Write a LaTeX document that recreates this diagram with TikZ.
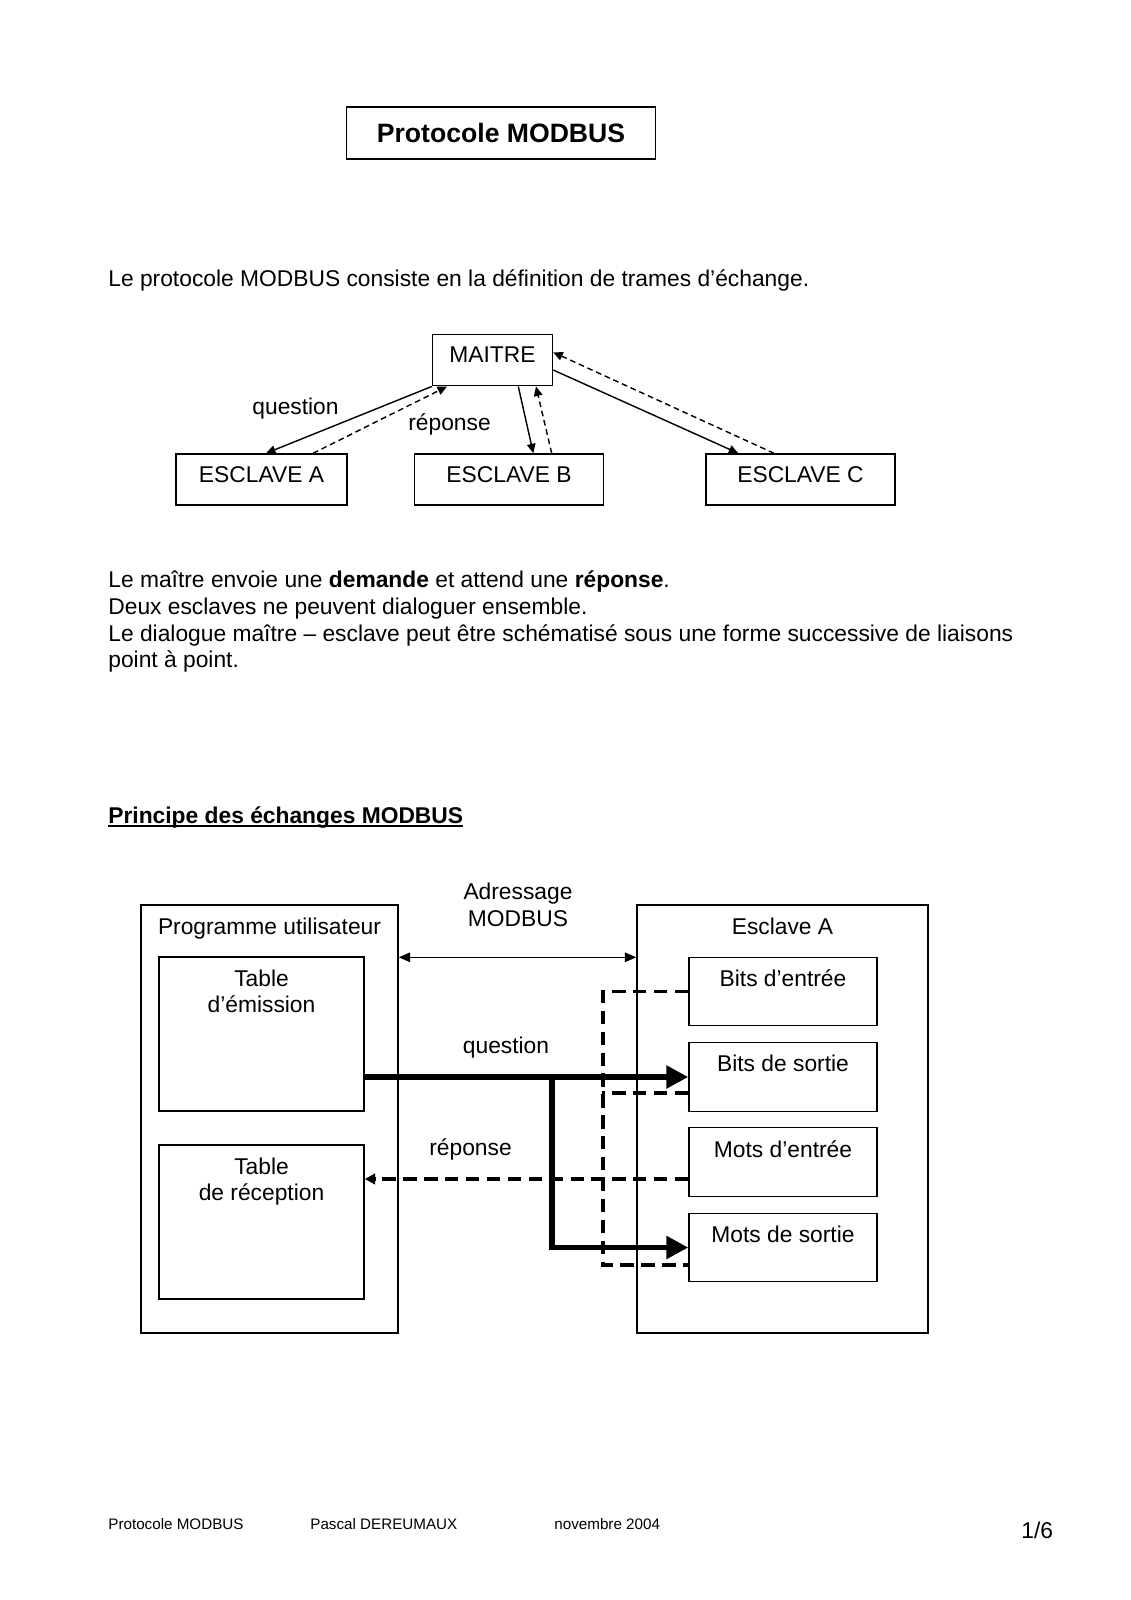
\documentclass[tikz,border=0pt]{standalone}
\usepackage{fontspec}
\setmainfont{Liberation Sans}
\usetikzlibrary{arrows.meta,calc,positioning}

\newcommand{\px}{0.52633pt}
\newcommand{\souligne}[1]{\setbox0=\hbox{#1}\rlap{\rule[-2.1pt]{\wd0}{0.88pt}}\box0}

\tikzset{
  boite/.style={draw, line width=0.75pt, inner sep=0pt},
  titre/.style={anchor=north, inner sep=0pt, align=center},
  dans/.style={titre, yshift=-6.8pt},
  texte/.style={anchor=base west, inner sep=0pt},
  mot/.style={anchor=base, inner sep=0pt},
  fleche/.style={line width=0.75pt, -{Triangle[length=5pt,width=4.5pt]}},
  pointille/.style={fleche, dash pattern=on 3pt off 2pt},
  adresse/.style={line width=0.75pt, {Triangle[length=6pt,width=5pt]}-{Triangle[length=6pt,width=5pt]}},
  gros/.style={line width=3pt, -{Triangle[length=11.5pt,width=11.5pt]}},
  tirets/.style={line width=1.6pt, dash pattern=on 7pt off 4pt},
}

\begin{document}
\begin{tikzpicture}[x=\px, y=-\px, font=\fontsize{12}{14}\selectfont]
\useasboundingbox (0,0) rectangle (1131,1600);

% en-tete
\node[draw, line width=0.75pt, minimum width=309*\px, minimum height=52*\px,
      font=\fontsize{14}{16}\selectfont\bfseries] (entete) at (501,133) {Protocole MODBUS};
\node[texte] (intro) at (108,286) {Le protocole MODBUS consiste en la définition de trames d’échange.};

% maitre et esclaves
\node[boite, minimum width=120*\px, minimum height=51.5*\px] (maitre) at (492.5,360) {};
\node[boite, minimum width=171*\px, minimum height=51*\px] (esclA) at (261.5,479.5) {};
\node[boite, minimum width=188.5*\px, minimum height=51*\px] (esclB) at (509,479.5) {};
\node[boite, minimum width=189*\px, minimum height=51*\px] (esclC) at (800.5,479.5) {};
\node[dans] (tMaitre) at (maitre.north) {MAITRE};
\node[dans] (tEsclA) at (esclA.north) {ESCLAVE A};
\node[dans] (tEsclB) at (esclB.north) {ESCLAVE B};
\node[dans] (tEsclC) at (esclC.north) {ESCLAVE C};

\draw[fleche] (maitre.south west) -- ($(esclA.north)+(4.5,0)$);
\draw[pointille] ($(esclA.north)+(51.5,0)$) -- ($(maitre.south west)+(15.3,0)$);
\draw[fleche] ($(maitre.south)+(25.8,0)$) -- ($(esclB.north)+(24.3,0)$);
\draw[pointille] ($(esclB.north)+(42.7,0)$) -- ($(maitre.south)+(43.5,0)$);
\draw[fleche] ($(maitre.east)+(0,10)$) -- ($(esclC.north)+(-62.2,0)$);
\draw[pointille] ($(esclC.north)+(-26.5,0)$) -- ($(maitre.east)+(0,-7.7)$);

\node[mot] (questionA) at (295.5,414) {question};
\node[mot] (reponseA) at (449.5,430) {réponse};

% texte
\node[texte] (ligne1) at (108,587) {Le maître envoie une \textbf{demande} et attend une \textbf{réponse}.};
\node[texte] (ligne2) at (108,614) {Deux esclaves ne peuvent dialoguer ensemble.};
\node[texte] (ligne3) at (108,641) {Le dialogue maître – esclave peut être schématisé sous une forme successive de liaisons};
\node[texte] (ligne4) at (108,667) {point à point.};

\node[texte, font=\fontsize{12}{14}\selectfont\bfseries] (principe) at (108,823) {\souligne{Principe des échanges MODBUS}};

% principe des echanges
\node[boite, minimum width=257*\px, minimum height=428*\px] (programme) at (269.5,1119) {};
\node[boite, minimum width=291*\px, minimum height=428*\px] (esclave) at (782.5,1119) {};
\node[boite, minimum width=205*\px, minimum height=154*\px] (emission) at (261.5,1034) {};
\node[boite, minimum width=205*\px, minimum height=154*\px] (reception) at (261.5,1222) {};
\node[dans] (tProgramme) at (programme.north) {Programme utilisateur};
\node[dans] (tEsclave) at (esclave.north) {Esclave A};
\node[dans] (tEmission) at (emission.north) {Table\\d’émission};
\node[dans] (tReception) at (reception.north) {Table\\de réception};
\foreach \nom/\lib/\y in {bitsE/Bits d’entrée/991.5, bitsS/Bits de sortie/1077,
                          motsE/Mots d’entrée/1162, motsS/Mots de sortie/1247.5}
{
  \node[boite, minimum width=188*\px, minimum height=68.5*\px] (\nom) at (783,\y) {};
  \node[dans] (t\nom) at (\nom.north) {\lib};
}

\node[titre] (adressage) at (518,883) {Adressage\\MODBUS};
\draw[adresse] ($(programme.north east)+(0,53)$) -- ($(esclave.north west)+(0,53)$);

\node[mot] (question) at (506,1053) {question};
\node[mot] (reponse) at (470.5,1155) {réponse};

\draw[gros] ($(emission.east)+(0,43)$) -- (bitsS.west);
\coordinate (embranchement) at (552,1077);
\draw[gros] (embranchement) |- (motsS.west);

\coordinate (bushaut) at (603,991.5);
\coordinate (busbas) at (603,1265);
\draw[tirets] (bitsE.west) -- (bushaut) -- (busbas) -- ($(motsS.west)+(0,17.5)$);
\draw[tirets] ($(bitsS.west)+(0,16)$) -- ($(bitsS.west)+(-86,16)$);
\draw[tirets, -{Triangle[length=5.5pt,width=5.5pt]}] ($(motsE.west)+(0,17)$) -- ($(reception.east)+(0,-43)$);

% pied de page
\begin{scope}[every node/.style={texte, font=\fontsize{8}{10}\selectfont}]
  \node (pied1) at (108,1529) {Protocole MODBUS};
  \node (pied2) at (310,1529) {Pascal DEREUMAUX};
  \node (pied3) at (554,1529) {novembre 2004};
\end{scope}
\node[texte] (page) at (1021,1538) {1/6};
\end{tikzpicture}
\end{document}
